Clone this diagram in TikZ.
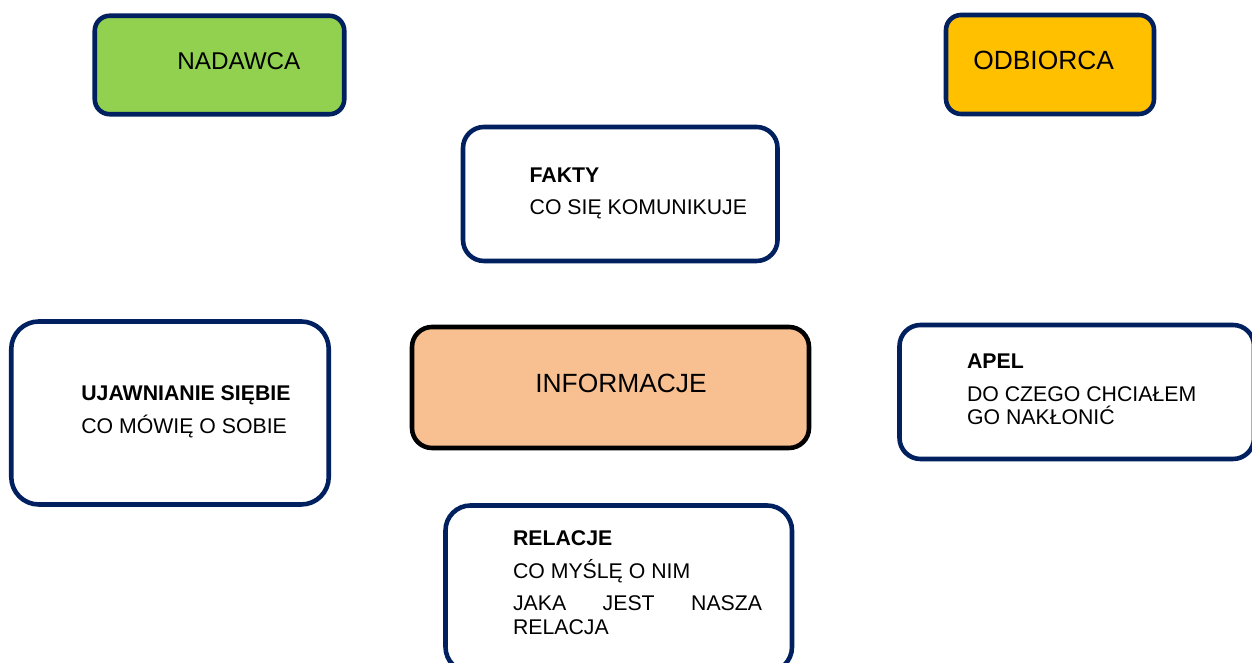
\documentclass[tikz,border=0pt]{standalone}
\usepackage{fontspec}
\setmainfont{Liberation Sans}
\usepackage{tikz}

\definecolor{ramka}{HTML}{002060}
\definecolor{zielony}{HTML}{92D050}
\definecolor{zolty}{HTML}{FFC000}
\definecolor{brzoskwinia}{HTML}{F8C091}

\tikzset{
    pole/.style={draw=ramka, line width=2.6pt, rounded corners=0.42cm, fill=white},
    duzy/.style={anchor=base west, inner sep=0pt, font=\fontsize{15}{18}\selectfont},
    maly/.style={anchor=base west, inner sep=0pt, font=\fontsize{12.1}{14}\selectfont},
}

\begin{document}
\begin{tikzpicture}
                \useasboundingbox (0, 0) rectangle (25.04, 13.26);
                \clip (0, 0) rectangle (25.04, 13.26);
                \coordinate (N) at (4.39, 11.96);
                \coordinate (O) at (21.0, 11.97);
                \coordinate (F) at (12.405, 9.38);
                \coordinate (I) at (12.21, 5.51);
                \coordinate (U) at (3.40, 5.00);
                \coordinate (A) at (21.535, 5.42);
                \coordinate (R) at (12.375, 1.485);
                \node[pole, fill=zielony, minimum width=4.99cm, minimum height=1.97cm, rounded corners=0.3cm] (nadawca) at (N) {};
                \node[pole, fill=zolty, minimum width=4.16cm, minimum height=1.98cm, rounded corners=0.3cm] (odbiorca) at (O) {};
                \node[pole, minimum width=6.29cm, minimum height=2.68cm] (fakty) at (F) {};
                \node[pole, draw=black, fill=brzoskwinia, minimum width=7.94cm, minimum height=2.42cm, rounded corners=0.4cm] (informacje) at (I) {};
                \node[pole, minimum width=6.35cm, minimum height=3.66cm, rounded corners=0.55cm] (ujawnianie) at (U) {};
                \node[pole, minimum width=7.09cm, minimum height=2.68cm] (apel) at (A) {};
                \node[pole, minimum width=6.93cm, minimum height=3.33cm, rounded corners=0.5cm] (relacje) at (R) {};
                \node[duzy, font=\fontsize{13.8}{17}\selectfont] (t-nadawca) at (3.54, 11.874) {NADAWCA};
                \node[duzy] (t-odbiorca) at (19.46, 11.86) {ODBIORCA};
                \node[duzy] (t-informacje) at (10.70, 5.40) {INFORMACJE};
                \node[maly] (t-fakty) at (10.586, 9.606) {\bfseries FAKTY};
                \node[maly] (t-fakty2) at (10.586, 8.974) {CO SIĘ KOMUNIKUJE};
                \node[maly] (t-ujawn) at (1.62, 5.246) {\bfseries UJAWNIANIE SIĘBIE};
                \node[maly] (t-ujawn2) at (1.62, 4.58) {CO MÓWIĘ O SOBIE};
                \node[maly] (t-apel) at (19.334, 5.894) {\bfseries APEL};
                \node[maly] (t-apel2) at (19.334, 5.226) {DO CZEGO CHCIAŁEM};
                \node[maly] (t-apel3) at (19.334, 4.774) {GO NAKŁONIĆ};
                \node[maly] (t-rel) at (10.254, 2.34) {\bfseries RELACJE};
                \node[maly] (t-rel2) at (10.254, 1.694) {CO MYŚLĘ O NIM};
                \node[maly] (t-rel3) at (10.254, 1.04) {\hbox to 4.98cm{JAKA\hfill JEST\hfill NASZA}};
                \node[maly] (t-rel4) at (10.254, 0.56) {RELACJA};
            \end{tikzpicture}
\end{document}
